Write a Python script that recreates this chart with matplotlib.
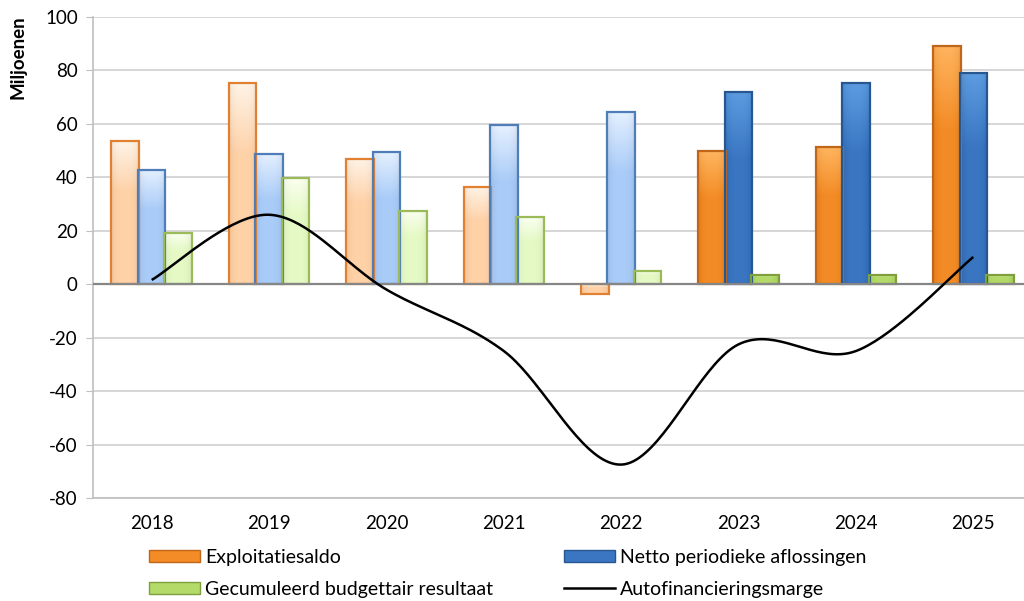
import numpy as np
import matplotlib
matplotlib.use("Agg")
import matplotlib.pyplot as plt
from matplotlib.patches import Rectangle
from matplotlib.lines import Line2D
from matplotlib.colors import to_rgb

years = ["2018", "2019", "2020", "2021", "2022", "2023", "2024", "2025"]
exploitatiesaldo = [53.5, 75.2, 46.8, 36.5, -3.7, 49.7, 51.2, 89.2]
netto_aflossingen = [42.8, 48.7, 49.3, 59.5, 64.5, 72.0, 75.4, 78.9]
gecumuleerd = [19.1, 39.7, 27.5, 25.0, 5.1, 3.6, 3.6, 3.6]
autofinanciering = [1.6, 26.0, -2.0, -25.0, -67.5, -22.5, -25.0, 10.2]
yticks = [-80, -60, -40, -20, 0, 20, 40, 60, 80, 100]
legend_labels = ["Exploitatiesaldo", "Netto periodieke aflossingen",
                 "Gecumuleerd budgettair resultaat", "Autofinancieringsmarge"]
n_pale = 5  # 2018-2022 shown in pale tones

plt.rcParams['font.family'] = ['Lato', 'DejaVu Sans']

fig = plt.figure(figsize=(10.24, 6.01), dpi=100)
ax = fig.add_axes([93/1024, 1-498/601, 939/1024, (498-17)/601])

# (top highlight, body, edge)
pale = {
    'o': ('#FFF3E6', '#FFD2A8', '#E08030'),
    'b': ('#E4F0FF', '#AACCF8', '#4F7DB8'),
    'g': ('#FAFFF0', '#E6FAC6', '#9BBB59'),
}
sat = {
    'o': ('#FFB45E', '#F38C26', '#C0661A'),
    'b': ('#5C9BE0', '#3A76C2', '#28578F'),
    'g': ('#D8F0A0', '#B4DA6A', '#7E9F3C'),
}

width = 0.235
offsets = [-0.225, 0.0, 0.225]
x = np.arange(len(years))

def draw_bar(xc, val, top_c, body_c, edge_c):
    bars = ax.bar(xc, val, width=width, color=body_c, edgecolor='none',
                  linewidth=0, zorder=2)
    patch = bars[0]
    y0, y1 = (0, val) if val >= 0 else (val, 0)
    c1 = np.array(to_rgb(top_c)); c2 = np.array(to_rgb(body_c))
    t = np.linspace(0, 1, 64)
    w = np.clip(t / 0.35, 0, 1)[:, None, None]  # highlight near the top
    img = c1[None, None, :] * (1 - w) + c2[None, None, :] * w
    img = np.repeat(img, 32, axis=1)
    hx = np.linspace(-1, 1, 32)
    shade = -0.06 * np.abs(hx) ** 3
    img = np.clip(img + shade[None, :, None], 0, 1)
    im = ax.imshow(img, extent=(xc - width/2, xc + width/2, y0, y1),
                   origin='upper', aspect='auto', zorder=2.1,
                   interpolation='bilinear')
    im.set_clip_path(patch)
    ax.add_patch(Rectangle((xc - width/2, y0), width, y1 - y0, fill=False,
                           edgecolor=edge_c, linewidth=1.6, zorder=2.2))

for series, key, off in [(exploitatiesaldo, 'o', offsets[0]),
                         (netto_aflossingen, 'b', offsets[1]),
                         (gecumuleerd, 'g', offsets[2])]:
    for i, v in enumerate(series):
        pal = pale if i < n_pale else sat
        draw_bar(x[i] + off, v, *pal[key])

# smoothed line (Excel-style Bezier smoothing)
def smooth(xs, ys, n=40):
    P = np.column_stack([xs, ys]).astype(float)
    P = np.vstack([P[0], P, P[-1]])
    out = []
    for i in range(1, len(P) - 2):
        p0, p1, p2, p3 = P[i-1], P[i], P[i+1], P[i+2]
        c1 = p1 + (p2 - p0) / 6
        c2 = p2 - (p3 - p1) / 6
        t = np.linspace(0, 1, n)[:, None]
        seg = (1-t)**3*p1 + 3*(1-t)**2*t*c1 + 3*(1-t)*t**2*c2 + t**3*p2
        out.append(seg if i == 1 else seg[1:])
    out = np.vstack(out)
    return out[:, 0], out[:, 1]

lx, ly = smooth(x, autofinanciering)
ax.plot(lx, ly, color='black', linewidth=1.8, zorder=4, solid_capstyle='butt')

ax.set_xlim(-0.5, len(years) - 0.5)
ax.set_ylim(-80, 100)
ax.set_yticks(yticks)
ax.set_yticklabels([str(t) for t in yticks])
ax.set_xticks(x)
ax.set_xticklabels(years)
ax.yaxis.grid(True, color='#D0D0D0', linewidth=1.2, zorder=0)
ax.set_axisbelow(True)
ax.axhline(0, color='#868686', linewidth=1.6, zorder=3)
for s in ['top', 'right']:
    ax.spines[s].set_visible(False)
for s in ['left', 'bottom']:
    ax.spines[s].set_color('#BFBFBF')
    ax.spines[s].set_linewidth(1.2)
ax.tick_params(axis='y', length=5, color='#BFBFBF', labelsize=13.5, pad=6)
ax.tick_params(axis='x', length=0, labelsize=13.5, pad=12)

fig.text(18/1024, 1-57/601, "Miljoenen", rotation=90, fontsize=13.5,
         fontweight='bold', ha='center', va='center')

h_o = Rectangle((0, 0), 1, 1, facecolor='#F38C26', edgecolor='#C0661A')
h_b = Rectangle((0, 0), 1, 1, facecolor='#3A76C2', edgecolor='#28578F')
h_g = Rectangle((0, 0), 1, 1, facecolor='#B4DA6A', edgecolor='#7E9F3C')
h_l = Line2D([0], [0], color='black', linewidth=1.8)

common = dict(ncol=1, loc='center left', frameon=False, fontsize=14,
              handlelength=2.6, handleheight=0.55, labelspacing=0.75,
              handletextpad=0.3, borderaxespad=0, borderpad=0)
fig.legend([h_o, h_g], [legend_labels[0], legend_labels[2]],
           bbox_to_anchor=(149/1024, 1-573.5/601), **common)
fig.legend([h_b, h_l], [legend_labels[1], legend_labels[3]],
           bbox_to_anchor=(564/1024, 1-573.5/601), **common)

fig.savefig("out.png", dpi=100)
